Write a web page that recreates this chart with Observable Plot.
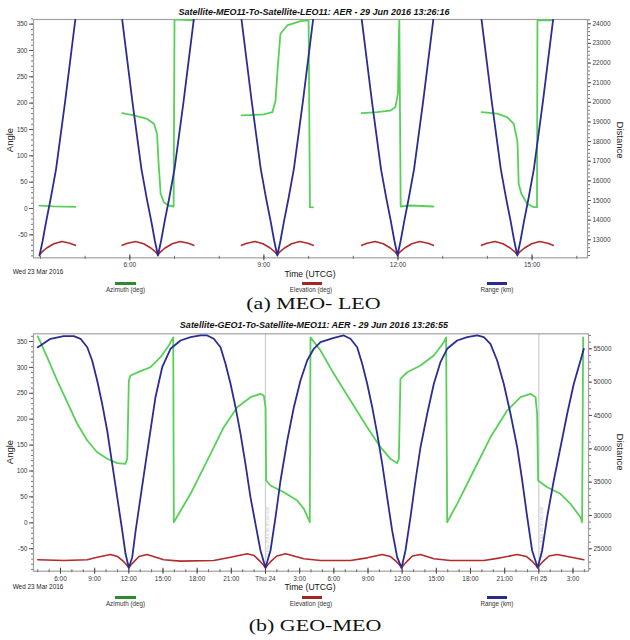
<!DOCTYPE html>
<html><head><meta charset="utf-8">
<script src="https://cdn.jsdelivr.net/npm/d3@7"></script>
<script src="https://cdn.jsdelivr.net/npm/@observablehq/plot@0.6"></script>
<style>
body{margin:0;background:#fff;}
#page{position:relative;width:630px;height:640px;font-family:"Liberation Sans",Arial,sans-serif;color:#000;overflow:hidden;background:#fff}
.abs{position:absolute;white-space:nowrap;line-height:1}
.layer{position:absolute;left:0}
.layer svg{background:transparent !important;display:block}
</style></head><body><div id="page"></div>
<script>
// ---------- Panel (a): MEO - LEO  (time in hours of Wed 23 Mar 2016) ----------
const aTitle = "Satellite-MEO11-To-Satellite-LEO11:  AER - 29 Jun 2016 13:26:16";
const aCaption = "(a) MEO- LEO";
const aRangeSegments = [
 [[3.98,12200],[4.05,12950],[4.13,13950],[4.23,15100],[4.35,16600],[4.55,20000],[4.78,24200]],
 [[5.83,24200],[6.06,20000],[6.26,16600],[6.38,15100],[6.48,13950],[6.56,12950],[6.63,12200],[6.70,12950],[6.78,13950],[6.88,15100],[7.00,16600],[7.20,20000],[7.43,24200]],
 [[8.50,24200],[8.73,20000],[8.93,16600],[9.05,15100],[9.15,13950],[9.23,12950],[9.30,12200],[9.37,12950],[9.45,13950],[9.55,15100],[9.67,16600],[9.87,20000],[10.10,24200]],
 [[11.19,24200],[11.42,20000],[11.62,16600],[11.74,15100],[11.84,13950],[11.92,12950],[11.99,12200],[12.06,12950],[12.14,13950],[12.24,15100],[12.36,16600],[12.56,20000],[12.79,24200]],
 [[13.87,24200],[14.10,20000],[14.30,16600],[14.42,15100],[14.52,13950],[14.60,12950],[14.67,12200],[14.74,12950],[14.82,13950],[14.92,15100],[15.04,16600],[15.24,20000],[15.47,24200]]
];
const aElevationSegments = [
 [[3.98,-88],[4.03,-83],[4.14,-75],[4.30,-67],[4.48,-62.7],[4.66,-66],[4.78,-70]],
 [[5.83,-70],[5.95,-66],[6.13,-62.7],[6.31,-67],[6.47,-75],[6.58,-83],[6.63,-88],[6.68,-83],[6.79,-75],[6.95,-67],[7.13,-62.7],[7.31,-66],[7.43,-70]],
 [[8.50,-70],[8.62,-66],[8.80,-62.7],[8.98,-67],[9.14,-75],[9.25,-83],[9.30,-88],[9.35,-83],[9.46,-75],[9.62,-67],[9.80,-62.7],[9.98,-66],[10.10,-70]],
 [[11.19,-70],[11.31,-66],[11.49,-62.7],[11.67,-67],[11.83,-75],[11.94,-83],[11.99,-88],[12.04,-83],[12.15,-75],[12.31,-67],[12.49,-62.7],[12.67,-66],[12.79,-70]],
 [[13.87,-70],[13.99,-66],[14.17,-62.7],[14.35,-67],[14.51,-75],[14.62,-83],[14.67,-88],[14.72,-83],[14.83,-75],[14.99,-67],[15.17,-62.7],[15.35,-66],[15.47,-70]]
];
const aAzimuthSegments = [
 [[3.98,5.5],[4.30,4],[4.78,3]],
 [[5.83,181],[6.09,176.6],[6.39,170],[6.54,160.8],[6.61,141.8],[6.64,91],[6.67,53],[6.69,28],[6.76,12],[6.87,5.7],[6.98,3.8],[7.00,359],[7.20,358],[7.43,357]],
 [[8.50,176.6],[9.00,178.5],[9.19,182.8],[9.26,205],[9.31,268],[9.37,331.7],[9.52,347.5],[9.82,355.6],[10.00,357],[10.03,2.5],[10.10,2]],
 [[11.19,181],[11.53,183],[11.83,186],[11.94,192],[12.00,218],[12.02,332],[12.03,357],[12.06,3.8],[12.28,5.7],[12.79,3.8]],
 [[13.87,183],[14.22,180],[14.44,173.5],[14.59,160.8],[14.67,129],[14.68,110],[14.70,47],[14.76,28],[14.89,9],[15.04,2.5],[15.11,2.5],[15.12,357],[15.47,357]]
];
const aXTicks = [6, 9, 12, 15];
const aXTickLabels = ["6:00", "9:00", "12:00", "15:00"];
const aRangeTicks = [13000,14000,15000,16000,17000,18000,19000,20000,21000,22000,23000,24000];

// ---------- Panel (b): GEO - MEO  (time in hours from Wed 23 Mar 2016 00:00) ----------
const bTitle = "Satellite-GEO1-To-Satellite-MEO11:  AER - 29 Jun 2016 13:26:55";
const bCaption = "(b) GEO-MEO";
const bRange = [
 [4.01,55240],[4.25,55500],[5.12,56500],[6.29,56890],[7.17,56890],[7.76,56500],[8.35,55240],[8.78,53245],[9.22,50245],[9.66,46750],[10.10,42745],[10.54,37750],[10.98,32740],[11.42,27745],[11.71,24250],[12.0,22150],
 [12.30,23740],[12.60,27745],[13.03,32740],[13.46,37750],[13.90,42745],[14.34,47740],[14.93,52240],[15.66,55000],[16.54,56245],[17.42,56740],[18.29,57000],[18.88,57000],[19.46,56500],[20.05,55240],[20.49,52750],[20.93,49750],[21.37,46240],[21.81,42250],[22.24,37750],[22.68,32740],[23.12,28750],[23.56,24745],[24.0,22150],
 [24.44,24745],[24.88,29740],[25.32,35245],[25.91,41245],[26.49,46240],[27.07,50245],[27.66,53245],[28.24,55000],[28.83,56000],[30.0,56650],[30.87,57000],[31.46,56500],[32.05,55240],[32.49,52750],[32.93,49750],[33.37,46240],[33.81,42250],[34.25,37750],[34.68,32740],[35.12,27745],[35.56,23740],[35.95,22150],
 [36.29,24745],[36.73,29740],[37.17,35245],[37.61,40240],[38.20,45250],[38.78,49750],[39.36,52990],[39.95,55000],[40.83,56245],[41.71,56740],[42.59,57000],[43.17,56740],[43.75,55750],[44.34,53245],[44.92,49750],[45.51,45250],[46.10,40240],[46.54,35245],[46.98,29740],[47.41,24745],[47.9,22150],
 [48.29,24745],[48.73,29740],[49.31,35245],[49.90,40240],[50.49,45250],[51.07,49750],[51.66,53245],[51.95,55000]
];
const bElevation = [
 [4.01,-71.4],[6.3,-72.8],[8.35,-71.4],[9.22,-66.4],[10.4,-61.2],[11.0,-65],[11.55,-75],[11.8,-81],[12.0,-87],[12.2,-81],[12.45,-75],[12.9,-65],[13.6,-61.2],[15.07,-71.4],[16.54,-74],
 [19.46,-72.8],[20.93,-66.4],[22.39,-59.8],[23.0,-63],[23.55,-75],[23.8,-81],[24.0,-87],[24.2,-81],[24.45,-75],[25.0,-64],[25.76,-59.8],[27.37,-69.5],[28.83,-72.8],
 [31.46,-72.8],[32.93,-67.6],[34.25,-61.2],[34.95,-65],[35.5,-75],[35.75,-81],[35.95,-87],[36.15,-81],[36.4,-75],[36.9,-64],[37.61,-61.2],[38.78,-69.5],[40.24,-72.8],
 [43.17,-72.8],[44.63,-67.6],[46.10,-61.2],[46.9,-65],[47.45,-75],[47.7,-81],[47.9,-87],[48.1,-81],[48.35,-75],[48.9,-64],[49.61,-61.2],[51.07,-67.6],[51.95,-71.4]
];
const bAzimuth = [
 [4.01,360],[4.83,319.7],[5.71,274.7],[6.59,232.8],[7.47,191.1],[8.35,158.9],[9.22,136.3],[10.10,123.6],[10.98,115.1],[11.71,113.9],[11.86,123.6],[12.0,274.7],[12.15,284.4],[13.03,292.7],[13.90,300.4],[14.78,319.7],[15.51,342.3],[15.90,358],[15.95,1.2],
 [17.42,56],[18.88,120],[20.34,184.6],[21.52,223.2],[22.68,242.5],[23.56,249],[23.85,245.8],[24.0,223],[24.06,81.7],[24.44,72],[25.61,59],[26.78,43],[27.37,27],[27.89,1.2],[27.95,358],
 [28.83,332.6],[30.0,287.6],[31.46,236],[32.93,184.6],[34.10,146],[34.97,123.6],[35.56,115],[35.71,123.6],[35.85,278],[36.44,290.7],[37.61,303.7],[38.78,323],[39.66,348.6],[39.86,358],[39.95,1],
 [40.83,36.7],[42.29,101],[43.75,165],[45.22,216.8],[46.39,242.5],[47.27,249],[47.71,242.5],[47.85,210],[47.94,81.7],[48.73,68.7],[49.90,56],[50.78,36.7],[51.66,10.8],[51.80,1],[51.89,358]
];
const bXTicks = [6,9,12,15,18,21,24,27,30,33,36,39,42,45,48,51];
const bXTickLabels = ["6:00","9:00","12:00","15:00","18:00","21:00","Thu 24","3:00","6:00","9:00","12:00","15:00","18:00","21:00","Fri 25","3:00"];
const bRangeTicks = [25000,30000,35000,40000,45000,50000,55000];
const bDayLines = [24, 48];
const bDayLabels = ["24 Mar 2016 00:00:00.000", "25 Mar 2016 00:00:00.000"];

// ---------- shared ----------
const angleTicks = [-50,0,50,100,150,200,250,300,350];
const dateLabel = "Wed 23 Mar 2016";
const timeLabel = "Time (UTCG)";
const legendNames = ["Azimuth (deg)", "Elevation (deg)", "Range (km)"];

const C = {green:"#58d058", red:"#b32a2a", blue:"#2b2d94", lgGreen:"#2e8a2e", lgRed:"#a32626", lgBlue:"#2a2a88"};
const page = document.getElementById("page");
const blank = () => "";

function rows(segs){ return segs.flatMap((s,i)=>s.map(([t,v])=>({t,v,seg:i}))); }
function txt(s, x, y, o={}){
  const d=document.createElement("div"); d.className="abs"; d.textContent=s;
  d.style.left=x+"px"; d.style.top=y+"px";
  d.style.fontSize=(o.size||7)+"px";
  if(o.family) d.style.fontFamily=o.family;
  if(o.weight) d.style.fontWeight=o.weight;
  if(o.italic) d.style.fontStyle="italic";
  d.style.color=o.color||"#222";
  d.style.transform="translate(-50%,-50%)"+(o.rotate?` rotate(${o.rotate}deg)`:"");
  page.appendChild(d);
}
function caption(s, cx, baseline){
  // line-height 0.6em puts the baseline 0.6375em below the box top; glyphs squeezed vertically about the baseline
  const size=22, b=0.6375*size, d=document.createElement("div"); d.className="abs"; d.textContent=s;
  d.style.fontFamily="'Liberation Serif','Times New Roman',serif"; d.style.fontSize=size+"px";
  d.style.lineHeight="0.6"; d.style.color="#111";
  d.style.left=cx+"px"; d.style.top=(baseline-b)+"px";
  d.style.transformOrigin=`0 ${b}px`;
  d.style.transform="translateX(-50%) scaleY(0.78)";
  page.appendChild(d);
}
function swatch(x1,x2,y,color){
  const d=document.createElement("div"); d.className="abs";
  d.style.left=x1+"px"; d.style.top=(y-1.5)+"px"; d.style.width=(x2-x1)+"px"; d.style.height="3px"; d.style.background=color;
  page.appendChild(d);
}

function panel(p){
  const common = {
    width:630, height:280, marginTop:p.mt, marginBottom:p.mb, marginLeft:33, marginRight:p.mr,
    x:{domain:p.xDomain, axis:null},
    style:{background:"transparent", fontFamily:"Liberation Sans, Arial, sans-serif", fontSize:"6.5px", color:"#3a3a3a", overflow:"visible"}
  };
  const fmtX = d => p.xLabels[p.xTicks.indexOf(d)];
  const xMinor = d3.range(Math.ceil(p.xDomain[0]), Math.floor(p.xDomain[1])+1);
  const angleMinor = d3.range(-90, 361, 10);
  const marksA = [];
  if(p.dayLines){
    marksA.push(Plot.ruleX(p.dayLines, {stroke:"#d0d0d0", strokeWidth:1.3}));
    marksA.push(Plot.text(p.dayLines, {x:d=>d, text:(d,i)=>p.dayLabels[i], frameAnchor:"bottom", rotate:-90, textAnchor:"start", dx:4, dy:-13, fontSize:4.4, fill:"#c4c4c4"}));
  }
  marksA.push(
    Plot.frame({stroke:"#a0a0a0", strokeWidth:1.2}),
    Plot.axisY(angleMinor, {anchor:"left", tickSize:2, tickFormat:blank, label:null, stroke:"#777"}),
    Plot.axisY(angleTicks, {anchor:"left", tickSize:4, tickPadding:2, tickFormat:d=>String(d), label:null, stroke:"#555"}),
    Plot.axisX(xMinor, {anchor:"bottom", tickSize:1.5, tickFormat:blank, label:null, stroke:"#666"}),
    Plot.axisX(xMinor, {anchor:"bottom", tickSize:-1.5, tickFormat:blank, label:null, stroke:"#666"}),
    Plot.axisX(p.xTicks, {anchor:"bottom", tickSize:3, tickPadding:2, tickFormat:fmtX, label:null, stroke:"#444"}),
    Plot.axisX(p.xTicks, {anchor:"bottom", tickSize:-3, tickFormat:blank, label:null, stroke:"#444"}),
    Plot.line(p.elev, {x:"t", y:"v", z:"seg", stroke:C.red, strokeWidth:1.6, clip:true}),
    Plot.line(p.azi, {x:"t", y:"v", z:"seg", stroke:C.green, strokeWidth:1.8, clip:true})
  );
  const svgA = Plot.plot({...common, y:{domain:p.angleDomain, axis:null}, marks:marksA});
  const svgR = Plot.plot({...common, y:{domain:p.rangeDomain, axis:null}, marks:[
    Plot.axisY(p.rangeMinor, {anchor:"right", tickSize:2, tickFormat:blank, label:null, stroke:"#777"}),
    Plot.axisY(p.rangeTicks, {anchor:"right", tickSize:3, tickPadding:2, tickFormat:d=>String(d), label:null, stroke:"#555"}),
    Plot.line(p.range, {x:"t", y:"v", z:"seg", stroke:C.blue, strokeWidth:1.8, clip:true})
  ]});
  for(const s of [svgA, svgR]){
    const l=document.createElement("div"); l.className="layer"; l.style.top=p.top+"px"; l.appendChild(s); page.appendChild(l);
  }
  const T=p.top;
  txt(p.title, 314, T+p.titleY, {size:9, weight:"bold", italic:true, color:"#111"});
  txt("Angle", 10, T+p.axisLabelY, {size:9.5, rotate:-90, color:"#222"});
  txt("Distance", 620, T+p.axisLabelY, {size:9.5, rotate:90, color:"#222"});
  txt(dateLabel, 38, p.dateY, {size:6.4, color:"#222"});
  txt(timeLabel, 310, p.timeY, {size:8.6, color:"#111"});
  swatch(115,136,p.legY,C.lgGreen); swatch(302,322,p.legY,C.lgRed); swatch(487,507,p.legY,C.lgBlue);
  txt(legendNames[0], 125.5, p.legY+7, {size:6.3, color:"#333"});
  txt(legendNames[1], 311, p.legY+7, {size:6.3, color:"#333"});
  txt(legendNames[2], 497, p.legY+7, {size:6.3, color:"#333"});
  caption(p.caption, p.capX, p.capBase);
}

panel({
  top:0, mt:19, mb:22.7, mr:43, xDomain:[3.845,16.24], angleDomain:[-93.6,358.8], rangeDomain:[12083,24217],
  xTicks:aXTicks, xLabels:aXTickLabels, rangeTicks:aRangeTicks, rangeMinor:d3.range(12200,24201,200),
  elev:rows(aElevationSegments), azi:rows(aAzimuthSegments), range:rows(aRangeSegments),
  title:aTitle, caption:aCaption, titleY:12, axisLabelY:140, dateY:272, timeY:274, legY:283, capX:313.5, capBase:309.5
});
panel({
  top:314, mt:19.3, mb:23.3, mr:42, xDomain:[3.63,52.36], angleDomain:[-93.4,364.9], rangeDomain:[21640,57250],
  xTicks:bXTicks, xLabels:bXTickLabels, rangeTicks:bRangeTicks, rangeMinor:d3.range(22000,57001,1000),
  elev:rows([bElevation]), azi:rows([bAzimuth]), range:rows([bRange]),
  dayLines:bDayLines, dayLabels:bDayLabels,
  title:bTitle, caption:bCaption, titleY:11, axisLabelY:138, dateY:586.7, timeY:587.3, legY:597, capX:315, capBase:631
});
</script></body></html>
